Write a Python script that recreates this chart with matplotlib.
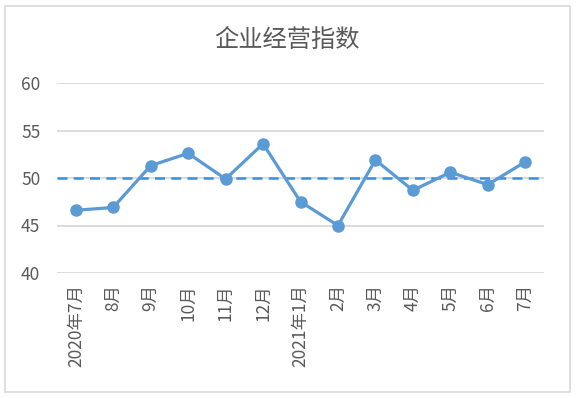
import matplotlib
matplotlib.use("Agg")
import matplotlib.pyplot as plt
from matplotlib.patches import Rectangle

plt.rcParams['font.family'] = ['Noto Sans CJK SC', 'DejaVu Sans']

title = "企业经营指数"
categories = ["2020年7月", "8月", "9月", "10月", "11月", "12月", "2021年1月",
              "2月", "3月", "4月", "5月", "6月", "7月"]
values = [46.6, 46.9, 51.3, 52.6, 49.9, 53.6, 47.5, 45.0, 51.9, 48.7, 50.6, 49.3, 51.7]
baseline = 50.0
yticks = [40, 45, 50, 55, 60]

fig = plt.figure(figsize=(5.76, 3.98), dpi=100)
fig.patches.append(Rectangle((5/576, 6/398), 565/576, 386/398, transform=fig.transFigure,
                             fill=False, edgecolor='#D9D9D9', linewidth=1.2))
ax = fig.add_axes([57/576, 1-273/398, 487/576, 190/398])
x = list(range(len(categories)))
ax.set_xlim(-0.5, len(categories) - 0.5)
ax.set_ylim(40, 60)
ax.set_yticks(yticks)
ax.grid(axis='y', color='#D9D9D9', linewidth=1.3)
ax.set_axisbelow(True)
for s in ax.spines.values():
    s.set_visible(False)
ax.axhline(baseline, color='#3A8EDB', linewidth=1.8, linestyle=(0, (4, 2.5)), zorder=2)
ax.plot(x, values, color='#5B9BD5', linewidth=2.3, marker='o', markersize=8,
        markerfacecolor='#5B9BD5', markeredgecolor='#5B9BD5', zorder=3)
ax.set_xticks(x)
ax.set_xticklabels(categories, rotation=90, va='top', ha='center')
ax.tick_params(axis='x', length=0, pad=8, labelsize=12.5, colors='#595959')
ax.tick_params(axis='y', length=0, pad=12, labelsize=12.5, colors='#595959')
for lab in ax.get_xticklabels() + ax.get_yticklabels():
    lab.set_fontweight('light')
fig.text(287/576, 1-40/398, title, ha='center', va='center', fontsize=17.5,
         color='#595959', fontweight='light')
fig.savefig("out.png", dpi=100)
